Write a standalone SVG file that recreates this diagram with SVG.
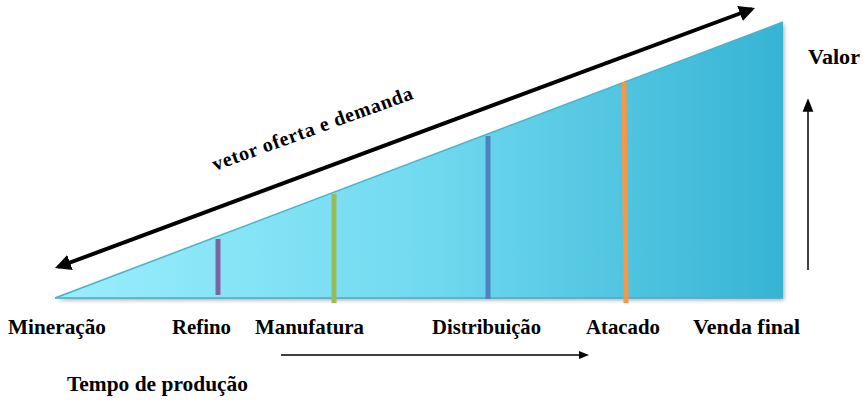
<svg xmlns="http://www.w3.org/2000/svg" width="863" height="401" viewBox="0 0 863 401">
<style>
.t{font-family:"Liberation Serif","Times New Roman",serif;font-weight:bold;font-size:21px;fill:#000}
.bar{stroke-width:5}
</style>
<defs>
<linearGradient id="g" x1="0" y1="0" x2="1" y2="0">
<stop offset="0" stop-color="#9aeefc"/>
<stop offset="0.5" stop-color="#72daf0"/>
<stop offset="1" stop-color="#36b4d4"/>
</linearGradient>
<filter id="sh" x="-5%" y="-5%" width="110%" height="115%">
<feDropShadow dx="1" dy="2" stdDeviation="2" flood-color="#000" flood-opacity="0.35"/>
</filter>
<marker id="ah" viewBox="0 0 10 10" refX="8" refY="5" markerWidth="4" markerHeight="4" orient="auto-start-reverse">
<path d="M0,0 L10,5 L0,10 z" fill="#000"/>
</marker>
<marker id="ah2" viewBox="0 0 10 10" refX="8" refY="5" markerWidth="7" markerHeight="7" orient="auto-start-reverse">
<path d="M0,1 L10,5 L0,9 z" fill="#000"/>
</marker>
<marker id="ah3" viewBox="0 0 10 10" refX="8" refY="5" markerWidth="9" markerHeight="9" orient="auto-start-reverse">
<path d="M0,1 L10,5 L0,9 z" fill="#000"/>
</marker>
</defs>
<g id="triangle">
<polygon points="55,298 783,22 783,298" fill="url(#g)" filter="url(#sh)"/>
<line x1="55" y1="298" x2="783" y2="22" stroke="#45b3cc" stroke-width="1.5"/>
<line x1="55" y1="298" x2="783" y2="298" stroke="#45aec8" stroke-width="1.5"/>
</g>
<g id="bars">
<line class="bar" x1="218" y1="239" x2="218" y2="295" stroke="#8064a2"/>
<line class="bar" x1="334" y1="194" x2="334" y2="303" stroke="#9bbb59"/>
<line class="bar" x1="488" y1="136" x2="488" y2="299" stroke="#4f81bd"/>
<line class="bar" x1="624" y1="82" x2="626" y2="303" stroke="#f79646"/>
</g>
<g id="connectors">
<line x1="58" y1="267" x2="752" y2="9" stroke="#000" stroke-width="4" marker-start="url(#ah)" marker-end="url(#ah)"/>
<line x1="808" y1="270" x2="808" y2="101" stroke="#000" stroke-width="1.5" marker-end="url(#ah3)"/>
<line x1="281" y1="355" x2="587" y2="355" stroke="#000" stroke-width="1.5" marker-end="url(#ah2)"/>
</g>
<g id="vetor">
<text class="t" transform="translate(215,171) rotate(-20)" textLength="212" lengthAdjust="spacing" style="font-size:20px">vetor oferta e demanda</text>
</g>
<g id="valor"><text class="t" x="808" y="64" textLength="52" lengthAdjust="spacingAndGlyphs">Valor</text></g>
<g id="labels">
<text class="t" x="8" y="334" textLength="98" lengthAdjust="spacingAndGlyphs">Mineração</text>
<text class="t" x="172" y="334" textLength="59" lengthAdjust="spacingAndGlyphs">Refino</text>
<text class="t" x="255" y="334" textLength="109" lengthAdjust="spacingAndGlyphs">Manufatura</text>
<text class="t" x="432" y="334" textLength="109" lengthAdjust="spacingAndGlyphs">Distribuição</text>
<text class="t" x="586" y="334" textLength="74" lengthAdjust="spacingAndGlyphs">Atacado</text>
<text class="t" x="693" y="334" textLength="107" lengthAdjust="spacingAndGlyphs">Venda final</text>
<text class="t" x="67" y="391" textLength="181" lengthAdjust="spacingAndGlyphs">Tempo de produção</text>
</g>
</svg>
